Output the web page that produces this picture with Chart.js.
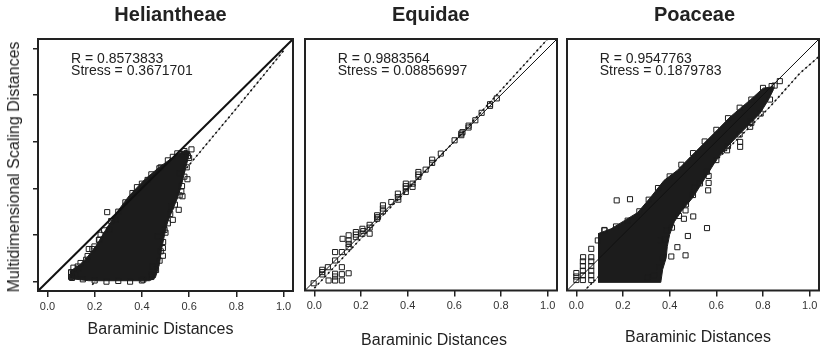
<!DOCTYPE html>
<html>
<head>
<meta charset="utf-8">
<script src="https://cdn.jsdelivr.net/npm/chart.js@4.4.1/dist/chart.umd.min.js"></script>
<style>
  body { margin: 0; background: #fff; }
  #wrap { position: relative; width: 824px; height: 350px; overflow: hidden;
          font-family: "Liberation Sans", Arial, sans-serif; color: #222; }
  canvas { position: absolute; top: 0; }
  .label { position: absolute; white-space: nowrap; line-height: 1;
           transform: translate(-50%, -50%); }
  .title { font-size: 20px; font-weight: bold; }
  .axis { font-size: 16px; }
  .ylab { transform: translate(-50%, -50%) rotate(-90deg); }
</style>
</head>
<body>
<div id="wrap">
  <canvas id="c0" width="300" height="350" style="left:0px"></canvas>
  <canvas id="c1" width="262" height="350" style="left:300px"></canvas>
  <canvas id="c2" width="262" height="350" style="left:562px"></canvas>
</div>
<script>
// DADOS DO GRÁFICO
const panelTitles = ["Heliantheae", "Equidae", "Poaceae"];
const xAxisTitle = "Baraminic Distances";
const yAxisTitle = "Multidimensional Scaling Distances";
const rValues = ["0.8573833", "0.9883564", "0.9547763"];
const stressValues = ["0.3671701", "0.08856997", "0.1879783"];
const xTicks = [0, 0.2, 0.4, 0.6, 0.8, 1.0];
const axisRange = [-0.04, 1.04];
const diagonal = [[-0.04, -0.04], [1.04, 1.04]];

// Heliantheae: dense cloud outline + visible squares + fitted line
const heliantheaeCore = [
  [0.098, 0.047], [0.098, 0.013], [0.175, 0.004], [0.432, 0.004], [0.457, 0.017],
  [0.474, 0.073], [0.483, 0.137], [0.496, 0.201], [0.509, 0.256], [0.530, 0.308],
  [0.551, 0.359], [0.568, 0.415], [0.581, 0.470], [0.594, 0.521], [0.603, 0.556],
  [0.585, 0.564], [0.538, 0.538], [0.474, 0.491], [0.410, 0.436], [0.346, 0.368],
  [0.295, 0.299], [0.252, 0.231], [0.209, 0.158], [0.167, 0.103], [0.132, 0.068]
];
const heliantheaeSquares = [
  [0.253, 0.298], [0.379, 0.405], [0.175, 0.140], [0.199, 0.151], [0.101, 0.040],
  [0.104, 0.016], [0.128, 0.065], [0.164, 0.094], [0.225, 0.201], [0.531, 0.535],
  [0.567, 0.547], [0.610, 0.567], [0.593, 0.439], [0.556, 0.308], [0.524, 0.322],
  [0.489, 0.111], [0.489, 0.144], [0.446, 0.065], [0.406, 0.009], [0.439, 0.030],
  [0.531, 0.265], [0.567, 0.386], [0.572, 0.366], [0.560, 0.465], [0.595, 0.538],
  [0.261, 0.222], [0.218, 0.179], [0.289, 0.265], [0.375, 0.379], [0.424, 0.436],
  [0.474, 0.486], [0.496, 0.222], [0.467, 0.194],
  [0.11, 0.06], [0.14, 0.08], [0.17, 0.11], [0.19, 0.14], [0.22, 0.18], [0.24, 0.22],
  [0.27, 0.26], [0.30, 0.30], [0.33, 0.34], [0.36, 0.38], [0.40, 0.42], [0.44, 0.46],
  [0.48, 0.49], [0.51, 0.52], [0.55, 0.55], [0.58, 0.56],
  [0.60, 0.53], [0.59, 0.49], [0.58, 0.45], [0.57, 0.41], [0.56, 0.37], [0.54, 0.33],
  [0.52, 0.29], [0.51, 0.25], [0.50, 0.21], [0.49, 0.17], [0.48, 0.13], [0.475, 0.09],
  [0.46, 0.05], [0.44, 0.02],
  [0.20, 0.005], [0.25, 0.0], [0.30, 0.003], [0.35, 0.0], [0.40, 0.005],
  [0.10, 0.02], [0.10, 0.04], [0.12, 0.03], [0.13, 0.055], [0.15, 0.01]
];
const heliantheaeFit = [[0.19, -0.013], [0.6, 0.5], [0.79, 0.73], [0.944, 0.92], [1.0, 0.99]];

// Equidae
const equidaeSquares = [
  [-0.003, -0.009], [0.034, 0.049], [0.034, 0.029], [0.034, 0.039], [0.058, 0.06],
  [0.061, 0.003], [0.089, 0.125], [0.089, 0.089], [0.089, 0.032], [0.089, 0.003],
  [0.089, 0.02], [0.118, 0.125], [0.118, 0.06], [0.118, 0.003], [0.118, 0.03],
  [0.147, 0.034], [0.121, 0.182], [0.147, 0.197], [0.147, 0.175], [0.147, 0.146],
  [0.147, 0.16], [0.178, 0.211], [0.178, 0.189], [0.178, 0.2], [0.206, 0.225],
  [0.206, 0.204], [0.21, 0.215], [0.237, 0.204], [0.237, 0.242], [0.237, 0.23],
  [0.269, 0.283], [0.269, 0.268], [0.272, 0.275], [0.294, 0.326], [0.294, 0.312],
  [0.294, 0.3], [0.33, 0.34], [0.358, 0.376], [0.358, 0.361], [0.36, 0.35],
  [0.392, 0.419], [0.392, 0.398], [0.392, 0.383], [0.392, 0.408], [0.421, 0.419],
  [0.421, 0.405], [0.446, 0.469], [0.446, 0.448], [0.446, 0.458], [0.477, 0.479],
  [0.505, 0.522], [0.505, 0.508], [0.542, 0.548], [0.601, 0.605], [0.63, 0.634],
  [0.63, 0.627], [0.635, 0.64], [0.661, 0.66], [0.661, 0.668], [0.69, 0.691],
  [0.717, 0.723], [0.753, 0.753], [0.753, 0.76], [0.782, 0.785]
];
const equidaeFit = [[0.0, -0.03], [0.3, 0.29], [0.6, 0.6], [0.8, 0.82], [1.0, 1.04]];

// Poaceae
const poaceaeCore = [
  [0.095, -0.005], [0.362, -0.005], [0.37, 0.05], [0.385, 0.1], [0.39, 0.15],
  [0.40, 0.2], [0.42, 0.255], [0.45, 0.30], [0.50, 0.36], [0.55, 0.44],
  [0.60, 0.52], [0.65, 0.58], [0.688, 0.620], [0.745, 0.677],
  [0.787, 0.720], [0.823, 0.778], [0.844, 0.821], [0.844, 0.835], [0.801, 0.829],
  [0.745, 0.778], [0.702, 0.742], [0.660, 0.706], [0.603, 0.648], [0.546, 0.591],
  [0.489, 0.534], [0.433, 0.476], [0.376, 0.433], [0.319, 0.361], [0.263, 0.295],
  [0.206, 0.26], [0.149, 0.225], [0.095, 0.205]
];
const poaceaeSquares = [
  [0.0, 0.005], [0.0, 0.02], [0.0, 0.035], [0.028, 0.005], [0.028, 0.025],
  [0.028, 0.045], [0.028, 0.065], [0.028, 0.085], [0.029, 0.103], [0.064, 0.005],
  [0.064, 0.025], [0.064, 0.045], [0.064, 0.065], [0.064, 0.085], [0.064, 0.103],
  [0.064, 0.139], [0.092, 0.175], [0.121, 0.218],
  [0.12, 0.22], [0.17, 0.235], [0.22, 0.26], [0.27, 0.3], [0.31, 0.35], [0.35, 0.4],
  [0.4, 0.45], [0.45, 0.5], [0.5, 0.55], [0.55, 0.6], [0.6, 0.65], [0.65, 0.7],
  [0.7, 0.745], [0.75, 0.78], [0.8, 0.83], [0.85, 0.84],
  [0.37, 0.1], [0.38, 0.18], [0.41, 0.23], [0.44, 0.28], [0.47, 0.33], [0.5, 0.37],
  [0.53, 0.42], [0.56, 0.47], [0.6, 0.52], [0.65, 0.58], [0.7, 0.63], [0.75, 0.68],
  [0.79, 0.72], [0.83, 0.78],
  [0.173, 0.347], [0.23, 0.352], [0.56, 0.228], [0.501, 0.278], [0.478, 0.194],
  [0.433, 0.146], [0.407, 0.106], [0.468, 0.111], [0.565, 0.39], [0.567, 0.422],
  [0.567, 0.452], [0.506, 0.404], [0.468, 0.304], [0.461, 0.268], [0.386, 0.218],
  [0.362, 0.175], [0.355, 0.06], [0.333, 0.025], [0.305, 0.017], [0.745, 0.684],
  [0.745, 0.663], [0.702, 0.598], [0.702, 0.577], [0.646, 0.562], [0.872, 0.859],
  [0.837, 0.838]
];
const poaceaeFit = [[0.03, -0.045], [0.5, 0.42], [0.83, 0.749], [0.957, 0.892], [1.04, 0.965]];


// CONFIGURAÇÃO DE CADA PAINEL (layout, não dados)
const FONT = '"Liberation Sans", Arial, sans-serif';
const INK = "#222";

const panels = [
  { canvas: "c0", core: heliantheaeCore, squares: heliantheaeSquares, fit: heliantheaeFit,
    showY: true, diagWidth: 2, padding: { left: 0, right: 7, top: 39, bottom: 29 } },
  { canvas: "c1", core: null, squares: equidaeSquares, fit: equidaeFit,
    showY: false, diagWidth: 1, padding: { left: 2, right: 5, top: 39, bottom: 29.5 } },
  { canvas: "c2", core: poaceaeCore, squares: poaceaeSquares, fit: poaceaeFit,
    showY: false, diagWidth: 1, padding: { left: 3, right: 5, top: 39, bottom: 29.5 } }
];

// posições dos textos HTML
const titlePos = [[170.5, 13.5], [430.8, 13.5], [694.5, 13.5]];
const xTitlePos = [[160.5, 328.5], [434, 340], [698, 336.5]];


// CONVERTE PARES EM PONTOS
function toPoints(pairs) {
  return pairs.map(([x, y]) => ({ x, y }));
}


// PLUGIN: MOLDURA E TEXTO R / STRESS
const statsPlugin = {
  id: "stats",
  afterDatasetsDraw(chart, args, opts) {
    const { ctx, chartArea, scales } = chart;
    ctx.save();
    ctx.strokeStyle = INK;
    ctx.lineWidth = 2;
    ctx.strokeRect(chartArea.left, chartArea.top, chartArea.width, chartArea.height);

    ctx.font = "14px " + FONT;
    ctx.fillStyle = INK;
    ctx.textAlign = "left";
    ctx.textBaseline = "middle";
    const tx = scales.x.getPixelForValue(0.1);
    ctx.fillText("R = " + opts.r, tx, scales.y.getPixelForValue(0.955));
    ctx.fillText("Stress = " + opts.stress, tx, scales.y.getPixelForValue(0.904));
    ctx.restore();
  }
};


// CRIA UM PAINEL
function createPanel(p, i) {
  const datasets = [];

  // linha ajustada (cinza + pontilhada), fica por baixo da nuvem
  datasets.push({
    type: "line",
    data: toPoints(p.fit),
    borderColor: "#9a9a9a",
    borderWidth: 1,
    pointRadius: 0,
    order: 6
  });
  datasets.push({
    type: "line",
    data: toPoints(p.fit),
    borderColor: "#111",
    borderWidth: 1.6,
    borderDash: [2, 3],
    pointRadius: 0,
    order: 5
  });

  // nuvem densa de quadrados (contorno preenchido)
  if (p.core) {
    datasets.push({
      type: "line",
      data: toPoints([...p.core, p.core[0]]),
      fill: "shape",
      backgroundColor: "#1c1c1c",
      borderColor: "#1c1c1c",
      borderWidth: 1,
      pointRadius: 0,
      tension: 0,
      order: 4
    });
  }

  // quadrados abertos
  datasets.push({
    type: "scatter",
    data: toPoints(p.squares),
    pointStyle: "rect",
    pointRadius: 3.6,
    pointBorderWidth: 1,
    borderWidth: 1,
    borderColor: "#1c1c1c",
    backgroundColor: "rgba(0,0,0,0)",
    order: 3
  });

  // diagonal y = x
  datasets.push({
    type: "line",
    data: toPoints(diagonal),
    borderColor: "#111",
    borderWidth: p.diagWidth,
    pointRadius: 0,
    order: 1
  });

  const setTicks = (scale) => {
    scale.ticks = xTicks.map((v) => ({ value: v }));
  };

  new Chart(document.getElementById(p.canvas), {
    type: "scatter",
    data: { datasets },
    plugins: [statsPlugin],
    options: {
      responsive: false,
      animation: false,
      devicePixelRatio: 1,
      layout: { padding: p.padding },
      plugins: {
        legend: { display: false },
        tooltip: { enabled: false },
        stats: { r: rValues[i], stress: stressValues[i] }
      },
      scales: {
        x: {
          type: "linear",
          min: axisRange[0],
          max: axisRange[1],
          afterBuildTicks: setTicks,
          afterFit: (s) => { s.height = 30; },
          border: { display: false },
          grid: { drawOnChartArea: false, drawTicks: true, tickLength: 6, color: INK, lineWidth: 1.5 },
          ticks: {
            autoSkip: false,
            maxRotation: 0,
            padding: 3,
            color: "#333",
            font: { family: FONT, size: 11 },
            callback: (v) => Number(v).toFixed(1)
          }
        },
        y: {
          type: "linear",
          display: p.showY,
          min: axisRange[0],
          max: axisRange[1],
          afterBuildTicks: setTicks,
          // Eixo Y só ocupa espaço no primeiro painel
          afterFit: (s) => { s.width = p.showY ? 38 : 0; },
          border: { display: false },
          grid: { drawOnChartArea: false, drawTicks: true, tickLength: 5, color: INK, lineWidth: 1.5 },
          ticks: { autoSkip: false, padding: 0, callback: () => "" }
        }
      }
    }
  });
}


// TEXTOS (títulos e eixos)
function addLabel(text, cls, x, y) {
  const el = document.createElement("div");
  el.className = "label " + cls;
  el.textContent = text;
  el.style.left = x + "px";
  el.style.top = y + "px";
  document.getElementById("wrap").appendChild(el);
}

panels.forEach(createPanel);
panelTitles.forEach((t, i) => addLabel(t, "title", titlePos[i][0], titlePos[i][1]));
xTitlePos.forEach(([x, y]) => addLabel(xAxisTitle, "axis", x, y));
addLabel(yAxisTitle, "axis ylab", 13.5, 167);
</script>
</body>
</html>
